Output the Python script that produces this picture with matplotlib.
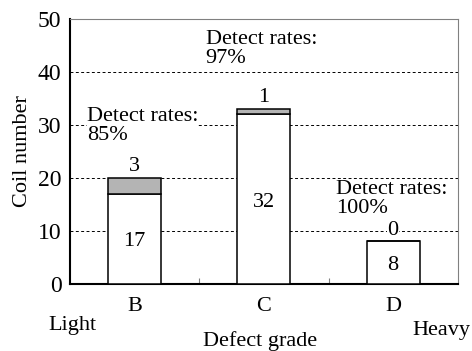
import matplotlib
matplotlib.use("Agg")
import matplotlib.pyplot as plt

plt.rcParams['font.family'] = ['Liberation Serif', 'DejaVu Serif']

# data
grades = ["B", "C", "D"]
detected = [17, 32, 8]
missed = [3, 1, 0]
rates = ["85%", "97%", "100%"]
yticks = [0, 10, 20, 30, 40, 50]

fig = plt.figure(figsize=(4.72, 3.51), dpi=100)
ax = fig.add_axes([0.148, 0.192, 0.822, 0.754])

x = list(range(len(grades)))
w = 0.41
ax.bar(x, detected, w, color="white", edgecolor="black", linewidth=1.1, zorder=3)
ax.bar(x, missed, w, bottom=detected, color="#b4b4b4", edgecolor="black", linewidth=1.1, zorder=3)

# grid
for y in yticks[1:-1]:
    ax.axhline(y, color="black", linestyle=(0, (3, 2.5)), linewidth=0.7, zorder=1)

FS = 16
# value labels
for i in x:
    ax.text(i, detected[i] / 2 - 0.6, str(detected[i]), ha="center", va="center", fontsize=FS, zorder=4)
    ax.text(i, detected[i] + missed[i] + 0.3, str(missed[i]), ha="center", va="bottom", fontsize=FS, zorder=4,
            bbox=dict(facecolor="white", edgecolor="none", pad=0.5))

# rate annotations
rate_pos = [(-0.37, 33.3), (0.55, 47.9), (1.555, 19.5)]
for (tx, ty), r in zip(rate_pos, rates):
    ax.text(tx, ty, "Detect rates:\n" + r, ha="left", va="top", fontsize=FS, linespacing=1.0, zorder=4,
            bbox=dict(facecolor="white", edgecolor="none", pad=0.0))

ax.set_xlim(-0.5, 2.5)
ax.set_ylim(0, 50)
ax.set_yticks(yticks)
ax.set_xticks([0.5, 1.5])
ax.set_xticklabels([])
ax.tick_params(axis="x", direction="in", length=4, color="gray")
ax.tick_params(axis="y", direction="in", length=0, labelsize=17, pad=6)

for i, g in enumerate(grades):
    ax.text(i, -2.6, g, ha="center", va="top", fontsize=FS)

ax.spines["left"].set_linewidth(1.5)
ax.spines["bottom"].set_linewidth(1.5)
ax.spines["top"].set_color("gray")
ax.spines["right"].set_color("gray")

ax.set_ylabel("Coil number", fontsize=FS, labelpad=4)

fig.text(0.103, 0.072, "Light", ha="left", va="center", fontsize=FS)
fig.text(0.997, 0.058, "Heavy", ha="right", va="center", fontsize=FS)
fig.text(0.55, 0.028, "Defect grade", ha="center", va="center", fontsize=FS)

fig.savefig("out.png", dpi=100)
